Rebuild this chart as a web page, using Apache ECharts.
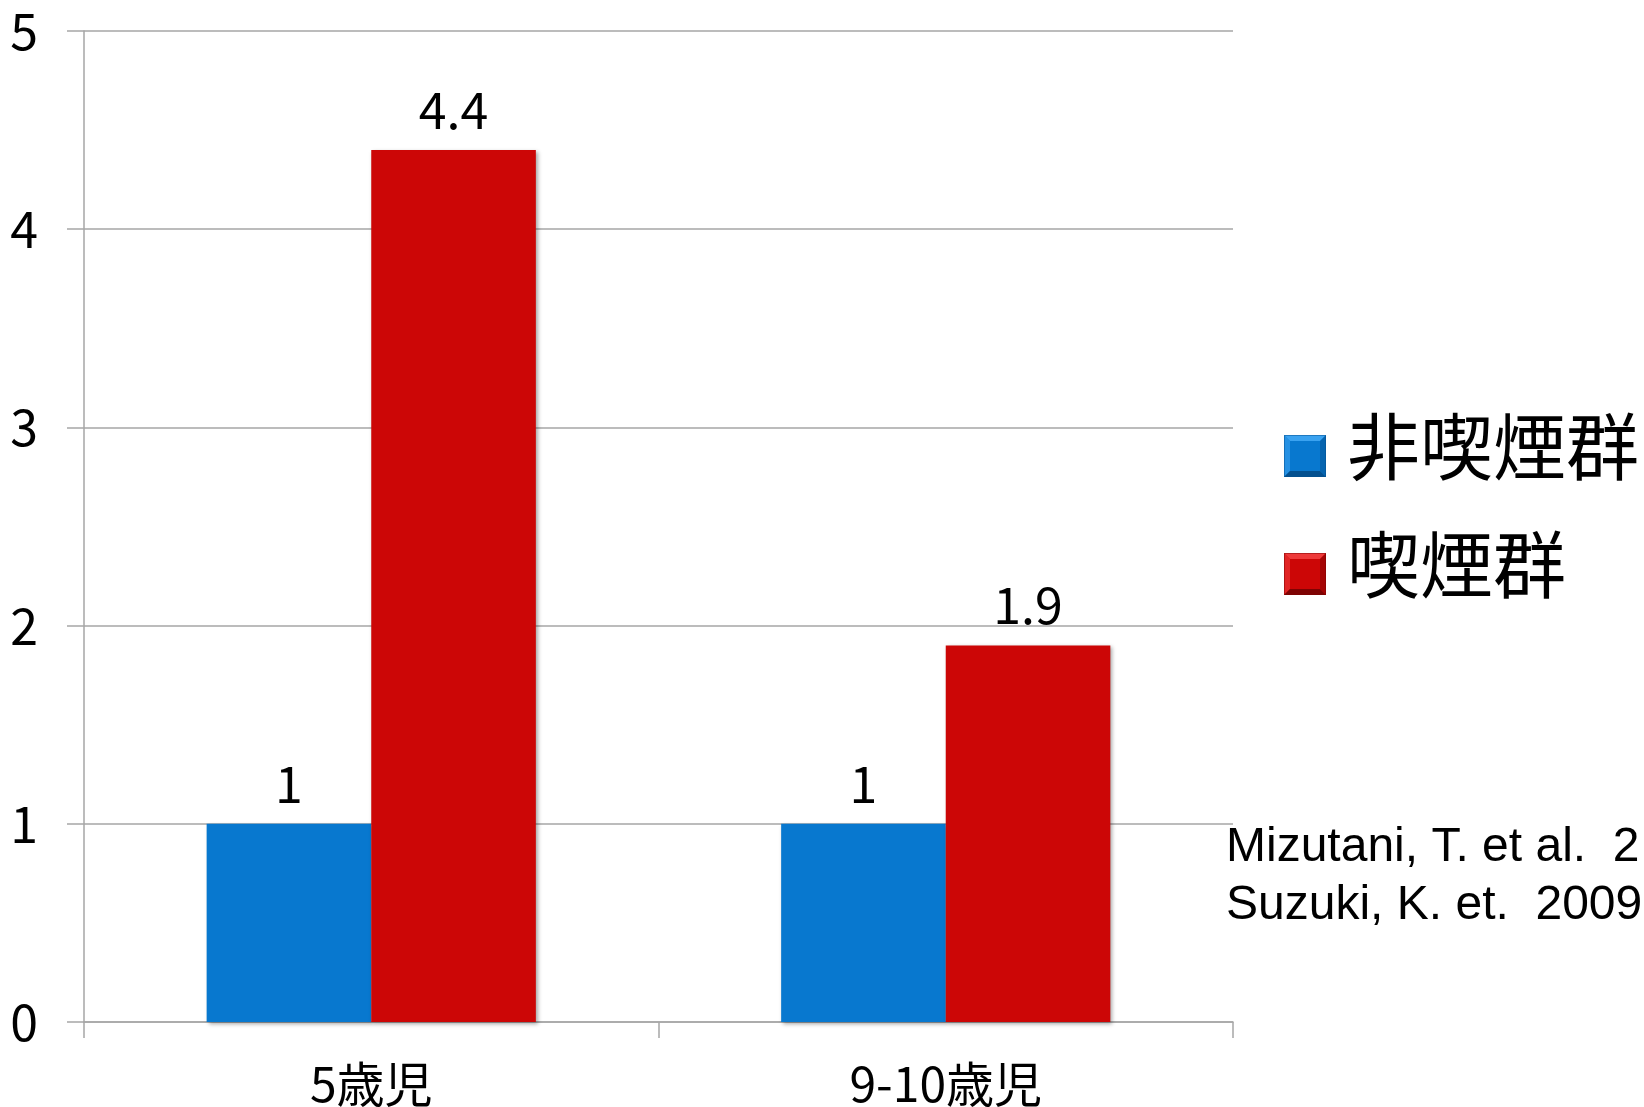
<!DOCTYPE html>
<html>
<head>
<meta charset="utf-8">
<style>
  html, body { margin: 0; padding: 0; background: #ffffff; }
  #chart { width: 1644px; height: 1107px; }
</style>
<script src="https://cdn.jsdelivr.net/npm/echarts@6/dist/echarts.min.js"></script>
</head>
<body>
<div id="chart"></div>
<script>
// Age groups on the x axis
const categories = ['5歳児', '9-10歳児'];
// Relative values per group
const nonSmokerValues = [1, 1];
const smokerValues = [4.4, 1.9];
const seriesNames = ['非喫煙群', '喫煙群'];
// Value axis ticks
const yTicks = [0, 1, 2, 3, 4, 5];
// Source note
const sourceLines = ['Mizutani, T. et al.  2', 'Suzuki, K. et.  2009'];

const labelFont = '"Noto Sans CJK JP", "Noto Sans", sans-serif';
const blue = '#0878cf';
const red = '#cc0606';
const gridGray = '#a6a6a6';

// Bevelled square legend swatch; the square sits in the lower part of a
// taller transparent icon so the legend text rides a little above its centre.
function swatch(base, light, dark) {
  const svg =
    "<svg xmlns='http://www.w3.org/2000/svg' width='42' height='62' viewBox='0 0 42 62'>" +
    "<rect x='0' y='20' width='42' height='42' fill='" + base + "'/>" +
    "<polygon points='0,20 42,20 36,26 6,26' fill='" + light + "'/>" +
    "<polygon points='0,20 6,26 6,56 0,62' fill='" + light + "' opacity='0.6'/>" +
    "<polygon points='42,20 42,62 36,56 36,26' fill='" + dark + "' opacity='0.5'/>" +
    "<polygon points='0,62 42,62 36,56 6,56' fill='" + dark + "'/>" +
    "<rect x='0.5' y='20.5' width='41' height='41' fill='none' stroke='" + dark + "' stroke-opacity='0.5'/>" +
    "</svg>";
  return 'image://data:image/svg+xml;charset=utf-8,' + encodeURIComponent(svg);
}

function barStyle(base) {
  return {
    color: base,
    shadowColor: 'rgba(0,0,0,0.35)',
    shadowBlur: 4,
    shadowOffsetX: 2,
    shadowOffsetY: 2
  };
}

const valueLabel = { show: true, position: 'top', distance: 15, fontFamily: labelFont, fontSize: 50, color: '#000' };

const chart = echarts.init(document.getElementById('chart'), null, { renderer: 'canvas' });

chart.setOption({
  animation: false,
  backgroundColor: '#ffffff',
  grid: { left: 84, right: 411, top: 31, bottom: 85, containLabel: false, outerBoundsMode: 'none' },
  legend: {
    orient: 'vertical',
    left: 1284,
    top: 409,
    padding: 0,
    itemWidth: 42,
    itemHeight: 62,
    itemGap: 44,
    textStyle: { fontFamily: labelFont, fontSize: 73, lineHeight: 74, color: '#000', padding: [0, 0, 0, 16] },
    data: [
      { name: seriesNames[0], icon: swatch(blue, '#3aa2f0', '#04508f') },
      { name: seriesNames[1], icon: swatch(red, '#ee3a3a', '#7e0303') }
    ]
  },
  xAxis: {
    type: 'category',
    data: categories,
    boundaryGap: true,
    axisLine: { lineStyle: { color: gridGray, width: 1.5 } },
    axisTick: { show: true, length: 16, alignWithLabel: false, lineStyle: { color: gridGray, width: 1.5 } },
    axisLabel: { margin: 38, fontFamily: labelFont, fontSize: 48, color: '#000' }
  },
  yAxis: {
    type: 'value',
    min: yTicks[0],
    max: yTicks[yTicks.length - 1],
    interval: 1,
    axisLine: { show: true, lineStyle: { color: gridGray, width: 1.5 } },
    axisTick: { show: true, length: 17, lineStyle: { color: gridGray, width: 1.5 } },
    splitLine: { lineStyle: { color: gridGray, width: 1.5 } },
    axisLabel: { margin: 46, fontFamily: labelFont, fontSize: 50, color: '#000' }
  },
  series: [
    {
      name: seriesNames[0],
      type: 'bar',
      data: nonSmokerValues,
      barGap: '0%',
      barCategoryGap: '42.7%',
      itemStyle: barStyle(blue),
      label: valueLabel
    },
    {
      name: seriesNames[1],
      type: 'bar',
      data: smokerValues,
      barGap: '0%',
      barCategoryGap: '42.7%',
      itemStyle: barStyle(red),
      label: valueLabel
    }
  ],
  graphic: [
    {
      type: 'text',
      left: 1226,
      top: 819,
      style: {
        text: sourceLines.join('\n'),
        fontFamily: '"Liberation Sans", Arial, sans-serif',
        fontSize: 48,
        lineHeight: 58,
        fill: '#000'
      }
    }
  ]
});
</script>
</body>
</html>
